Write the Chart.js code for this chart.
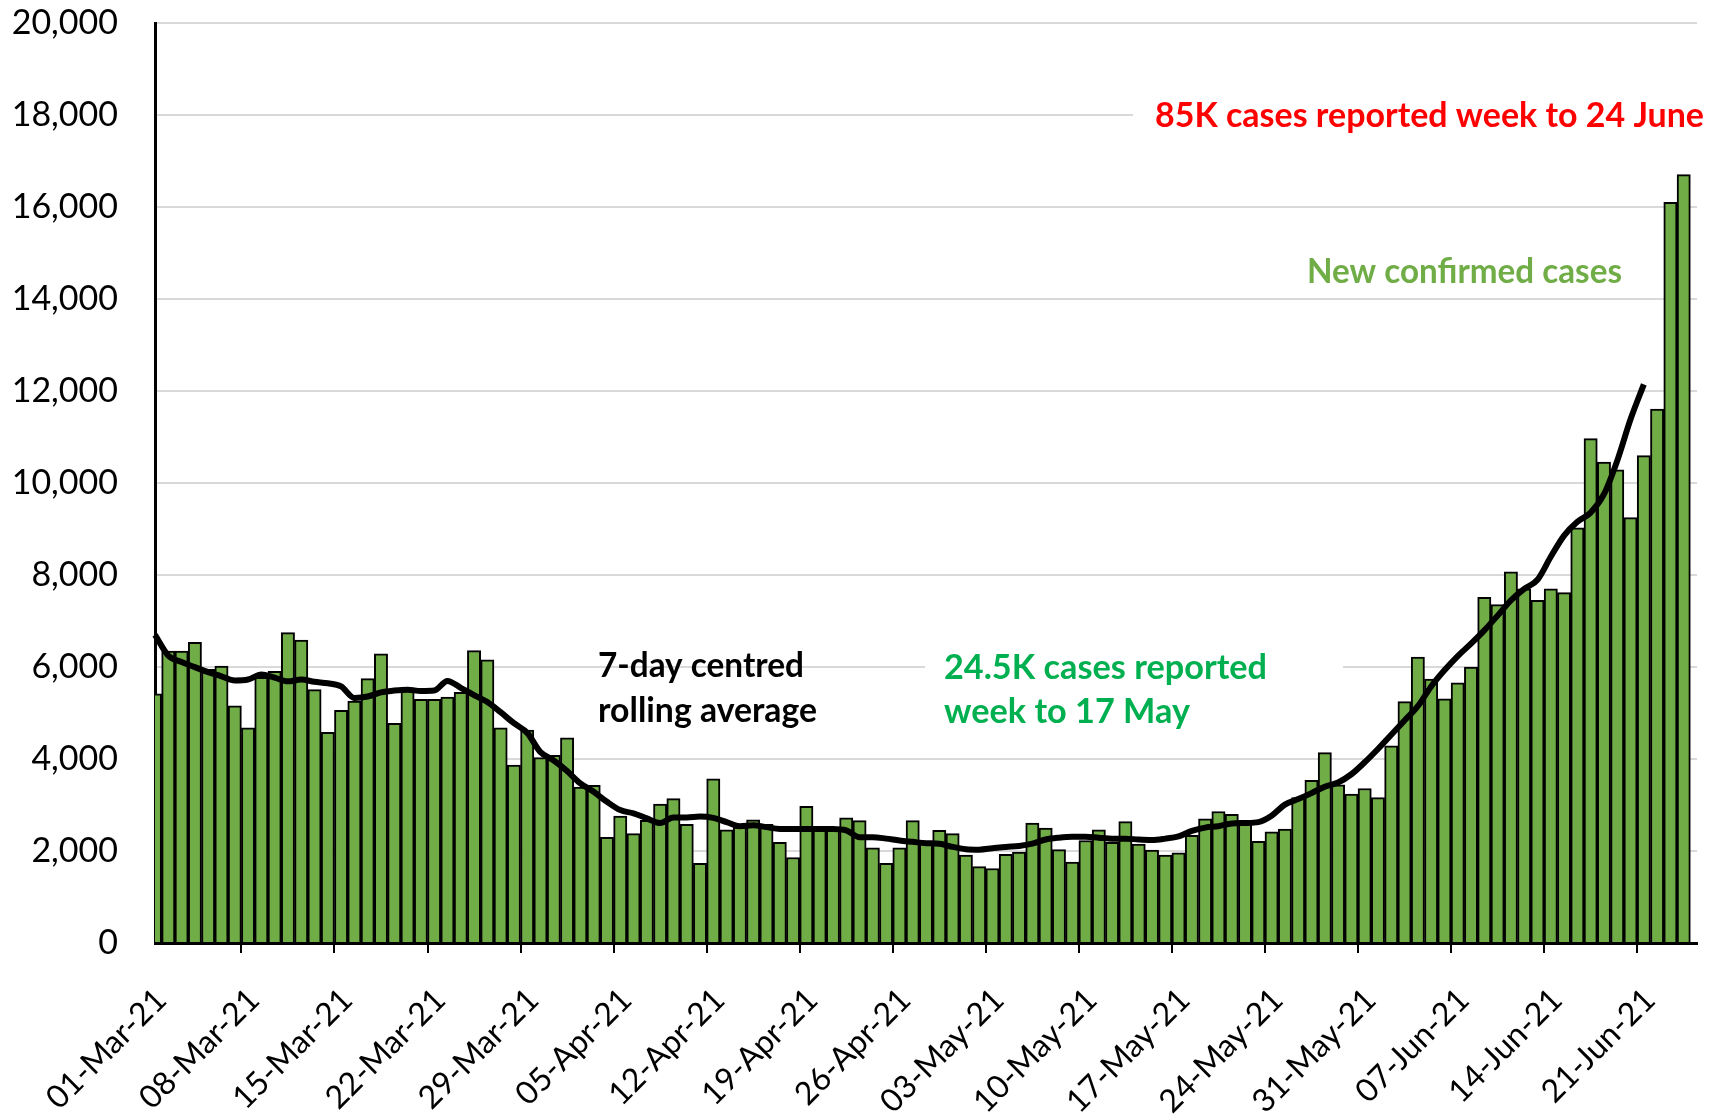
<!DOCTYPE html>
<html>
<head>
<meta charset="utf-8">
<script src="https://cdn.jsdelivr.net/npm/chart.js@4.4.1/dist/chart.umd.min.js"></script>
<style>
  html, body { margin: 0; padding: 0; background: #fff; }
  #wrap { width: 1715px; height: 1116px; position: relative; }
</style>
</head>
<body>
<div id="wrap"><canvas id="myChart"></canvas></div>
<script>
// daily categories: 01-Mar-21 .. 25-Jun-21 (the last slot stays empty)
const firstDay = Date.UTC(2021, 2, 1);
const dayCount = 117;
const monthNames = ['Jan', 'Feb', 'Mar', 'Apr', 'May', 'Jun', 'Jul', 'Aug', 'Sep', 'Oct', 'Nov', 'Dec'];
const tickEvery = 7;

// new confirmed cases, 01-Mar-21 .. 24-Jun-21
const dailyCases = [
    // March
    5420, 6350, 6350, 6540, 5950, 6020, 5160, 4680, 5780, 5910,
    6750, 6590, 5510, 4580, 5060, 5260, 5750, 6290, 4780, 5550,
    5300, 5300, 5350, 5450, 6360, 6160, 4680, 3870, 4630, 4030,
    4080,
    // April
    4460, 3390, 3430, 2300, 2760, 2380, 2670, 3020, 3140, 2580,
    1730, 3570, 2460, 2520, 2680, 2580, 2190, 1860, 2970, 2450,
    2450, 2720, 2660, 2070, 1730, 2070, 2660, 2160, 2450, 2380,
    // May
    1910, 1660, 1620, 1930, 1980, 2610, 2500, 2030, 1760, 2230,
    2460, 2190, 2640, 2150, 2020, 1910, 1960, 2340, 2700, 2860,
    2800, 2650, 2210, 2420, 2480, 3160, 3540, 4140, 3440, 3240,
    3360,
    // June
    3160, 4290, 5250, 6220, 5740, 5310, 5660, 6000, 7520, 7360,
    8070, 7700, 7450, 7700, 7620, 9030, 10970, 10460, 10290, 9250,
    10600, 11610, 16110, 16710
];

// 7-day centred rolling average, 01-Mar-21 .. 21-Jun-21
const rollingAverage = [
    // March
    6700, 6250, 6110, 6000, 5890, 5800, 5710, 5730, 5840, 5770,
    5690, 5730, 5680, 5650, 5580, 5330, 5360, 5450, 5490, 5510,
    5480, 5490, 5700, 5550, 5390, 5240, 5020, 4780, 4570, 4150,
    3970,
    // April
    3740, 3470, 3290, 3070, 2890, 2820, 2710, 2610, 2730, 2730,
    2750, 2720, 2630, 2540, 2560, 2520, 2480, 2480, 2480, 2480,
    2480, 2450, 2300, 2300, 2270, 2230, 2200, 2170, 2160, 2090,
    // May
    2040, 2030, 2060, 2090, 2110, 2160, 2250, 2290, 2310, 2310,
    2290, 2270, 2270, 2250, 2240, 2270, 2320, 2440, 2510, 2540,
    2600, 2610, 2630, 2770, 3010, 3130, 3260, 3400, 3490, 3670,
    3930,
    // June
    4220, 4530, 4840, 5150, 5580, 5930, 6240, 6510, 6800, 7120,
    7450, 7700, 7900, 8400, 8860, 9160, 9360, 9760, 10490, 11390,
    12150
];

const yMax = 20000;
const yStep = 2000;

function dayLabel(i) {
    const d = new Date(firstDay + i * 86400000);
    const dd = String(d.getUTCDate()).padStart(2, '0');
    return dd + '-' + monthNames[d.getUTCMonth()] + '-21';
}

const labels = [];
for (let i = 0; i < dayCount; i++) labels.push(dayLabel(i));

const FONT = 'Lato, "Open Sans", sans-serif';

// squeeze a bold label into the width it takes in the original
function drawNote(ctx, text, x, y, width, color) {
    ctx.save();
    ctx.font = 'bold 35px ' + FONT;
    const w = ctx.measureText(text).width;
    ctx.translate(x, y);
    ctx.scale(Math.min(1, width / w), 1);
    ctx.fillStyle = color;
    ctx.textBaseline = 'alphabetic';
    ctx.textAlign = 'left';
    ctx.fillText(text, 0, 0);
    ctx.restore();
}

const notesPlugin = {
    id: 'notes',
    afterDraw(chart) {
        const ctx = chart.ctx;
        ctx.save();
        // white boxes break the gridlines behind two of the labels
        ctx.fillStyle = '#fff';
        ctx.fillRect(1133, 95, 582, 40);
        ctx.fillRect(925, 648, 418, 40);
        ctx.restore();

        drawNote(ctx, '85K cases reported week to 24 June', 1155, 127, 549, '#FF0000');
        drawNote(ctx, 'New confirmed cases', 1307, 283, 315, '#70AD47');
        drawNote(ctx, '7-day centred', 598, 677, 206, '#000000');
        drawNote(ctx, 'rolling average', 598, 722, 219, '#000000');
        drawNote(ctx, '24.5K cases reported', 944, 679, 323, '#00B050');
        drawNote(ctx, 'week to 17 May', 944, 723, 246, '#00B050');
    }
};

const ctx = document.getElementById('myChart').getContext('2d');

const chart = new Chart(ctx, {
    type: 'bar',
    data: {
        labels: labels,
        datasets: [{
            type: 'line',
            label: '7-day centred rolling average',
            data: rollingAverage,
            borderColor: '#000000',
            borderWidth: 6,
            pointRadius: 0,
            cubicInterpolationMode: 'monotone',
            order: 0
        }, {
            type: 'bar',
            label: 'New confirmed cases',
            data: dailyCases,
            backgroundColor: '#70AD47',
            borderColor: '#000000',
            borderWidth: 2,
            barPercentage: 1,
            categoryPercentage: 1,
            clip: 0,
            order: 1
        }]
    },
    options: {
        responsive: true,
        maintainAspectRatio: false,
        animation: false,
        layout: {
            padding: { top: 0, right: 18, left: 0, bottom: 0 }
        },
        plugins: {
            legend: { display: false },
            tooltip: { enabled: false }
        },
        scales: {
            x: {
                offset: false,
                afterFit: (scale) => {
                    scale.height = 173;
                    // rotated labels hang to the left only, keep the plot wide
                    scale.paddingLeft = 0;
                    scale.paddingRight = 0;
                },
                grid: {
                    drawOnChartArea: false,
                    drawTicks: true,
                    tickLength: 10,
                    lineWidth: 2,
                    tickColor: (c) => c.index % tickEvery === 0 ? '#000000' : 'rgba(0,0,0,0)'
                },
                border: { color: '#000000', width: 3 },
                ticks: {
                    autoSkip: false,
                    maxRotation: 45,
                    minRotation: 45,
                    padding: 28,
                    labelOffset: 6,
                    color: '#000000',
                    font: { family: FONT, size: 32 },
                    callback: function (value, index) {
                        return index % tickEvery === 0 ? labels[index] : '';
                    }
                }
            },
            y: {
                min: 0,
                max: yMax,
                afterFit: (scale) => { scale.width = 155; },
                grid: {
                    color: '#d9d9d9',
                    lineWidth: 2,
                    drawTicks: true,
                    tickLength: 34,
                    tickColor: 'rgba(0,0,0,0)'
                },
                border: { color: '#000000', width: 3 },
                ticks: {
                    stepSize: yStep,
                    padding: 3,
                    color: '#000000',
                    font: { family: FONT, size: 34 },
                    callback: (v) => v.toLocaleString('en-US')
                }
            }
        }
    },
    plugins: [notesPlugin]
});
</script>
</body>
</html>
